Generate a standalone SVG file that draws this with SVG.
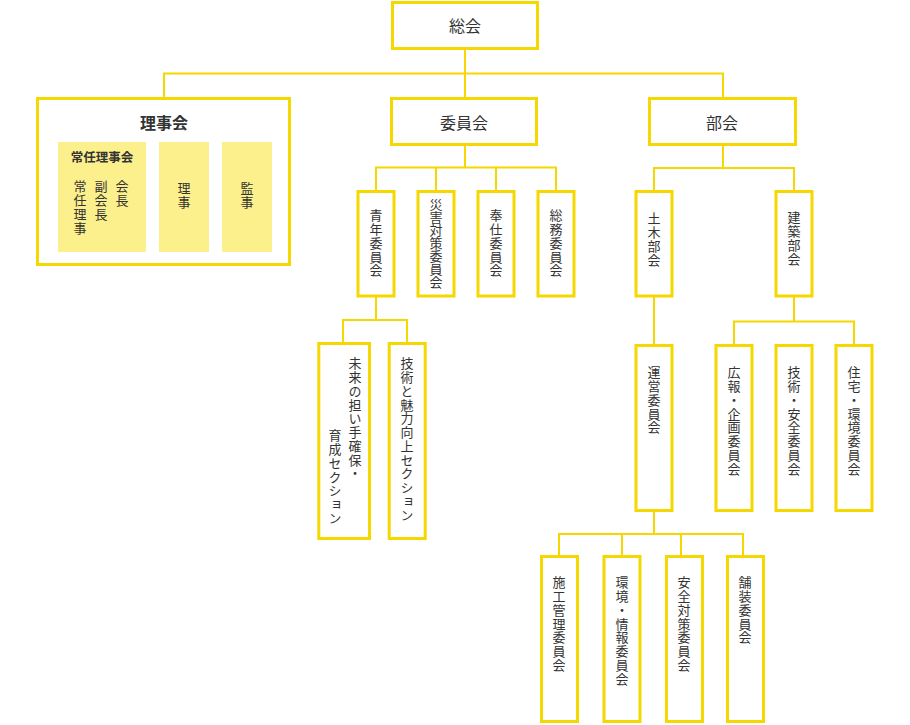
<svg xmlns="http://www.w3.org/2000/svg" width="910" height="725" viewBox="0 0 910 725">
<style>
.box{fill:#fff;stroke:#f5d800;stroke-width:3}
.sub{fill:#fcf08c}
.ln{fill:none;stroke:#f5d800;stroke-width:2}
text{font-family:"Noto Sans CJK JP","Noto Sans",sans-serif;fill:#333}
.h{font-size:16px;text-anchor:middle;dominant-baseline:central}
.b{font-weight:bold}
.v{font-size:13px;writing-mode:vertical-rl;letter-spacing:0.75px}
</style>
<rect width="910" height="725" fill="#fff"/>
<g id="connectors">
<path class="ln" d="M465 50V73.5M164 97V73.5H723V97M465 73.5V97"/>
<path class="ln" d="M465 146V167.5M376 190V167.5H556V190M436 167.5V190M496 167.5V190"/>
<path class="ln" d="M723 146V168M654 190V168H794V190"/>
<path class="ln" d="M376 297V320M343 342V320H407V342"/>
<path class="ln" d="M654 297V344"/>
<path class="ln" d="M794 297V321.5M734 344V321.5H854V344"/>
<path class="ln" d="M654 511V534M559 555V534H743V555M622 534V555M681 534V555"/>
</g>
<g id="soukai"><rect class="box" x="392.5" y="2.5" width="145" height="46"/><text class="h" x="465" y="25">総会</text></g>
<g id="rijikai">
<rect class="box" x="37.5" y="98.5" width="252" height="166"/>
<text class="h b" x="164" y="122">理事会</text>
<rect class="sub" x="58" y="142" width="88" height="110"/>
<text class="b" x="102" y="156" font-size="12.5" text-anchor="middle" dominant-baseline="central">常任理事会</text>
<text class="v" x="80" y="180">常任理事</text>
<text class="v" x="101" y="180">副会長</text>
<text class="v" x="122" y="180">会長</text>
<rect class="sub" x="159" y="142" width="50" height="110"/>
<text class="v" x="184" y="182">理事</text>
<rect class="sub" x="222" y="142" width="50" height="110"/>
<text class="v" x="247" y="182">監事</text>
</g>
<g id="iinkai"><rect class="box" x="391.5" y="98.5" width="145" height="46"/><text class="h" x="464" y="122">委員会</text></g>
<g id="bukai"><rect class="box" x="649.5" y="98.5" width="146" height="46"/><text class="h" x="722" y="122">部会</text></g>
<g id="seinen"><rect class="box" x="358" y="191.5" width="36" height="104.5"/><text class="v" x="376" y="209">青年委員会</text></g>
<g id="saigai"><rect class="box" x="418" y="191.5" width="36" height="104.5"/><text class="v" x="436" y="198" style="letter-spacing:0px">災害対策委員会</text></g>
<g id="houshi"><rect class="box" x="478" y="191.5" width="36" height="104.5"/><text class="v" x="496" y="209">奉仕委員会</text></g>
<g id="soumu"><rect class="box" x="538" y="191.5" width="36" height="104.5"/><text class="v" x="556" y="209">総務委員会</text></g>
<g id="doboku"><rect class="box" x="636" y="191.5" width="36" height="104.5"/><text class="v" x="654" y="212">土木部会</text></g>
<g id="kenchiku"><rect class="box" x="776" y="191.5" width="36" height="104.5"/><text class="v" x="794" y="211">建築部会</text></g>
<g id="mirai"><rect class="box" x="318.8" y="343.5" width="50.7" height="195"/><text class="v" x="355" y="357">未来の担い手確保・</text><text class="v" x="335" y="429">育成セクション</text></g>
<g id="gijutsu-miryoku"><rect class="box" x="389.2" y="343.5" width="36" height="195"/><text class="v" x="407" y="357">技術と魅力向上セクション</text></g>
<g id="unei"><rect class="box" x="636" y="345.5" width="36" height="165"/><text class="v" x="654" y="366">運営委員会</text></g>
<g id="kouhou"><rect class="box" x="716" y="345.5" width="36" height="165"/><text class="v" x="734" y="366">広報・企画委員会</text></g>
<g id="gijutsu-anzen"><rect class="box" x="776" y="345.5" width="36" height="165"/><text class="v" x="794" y="366">技術・安全委員会</text></g>
<g id="jutaku"><rect class="box" x="836" y="345.5" width="36" height="165"/><text class="v" x="854" y="366">住宅・環境委員会</text></g>
<g id="sekou"><rect class="box" x="541.5" y="556.5" width="36" height="165"/><text class="v" x="559" y="576">施工管理委員会</text></g>
<g id="kankyou"><rect class="box" x="604" y="556.5" width="36" height="165"/><text class="v" x="622" y="576">環境・情報委員会</text></g>
<g id="anzen"><rect class="box" x="666.5" y="556.5" width="36" height="165"/><text class="v" x="684" y="576">安全対策委員会</text></g>
<g id="hosou"><rect class="box" x="727.5" y="556.5" width="36" height="165"/><text class="v" x="745" y="576">舗装委員会</text></g>
</svg>
